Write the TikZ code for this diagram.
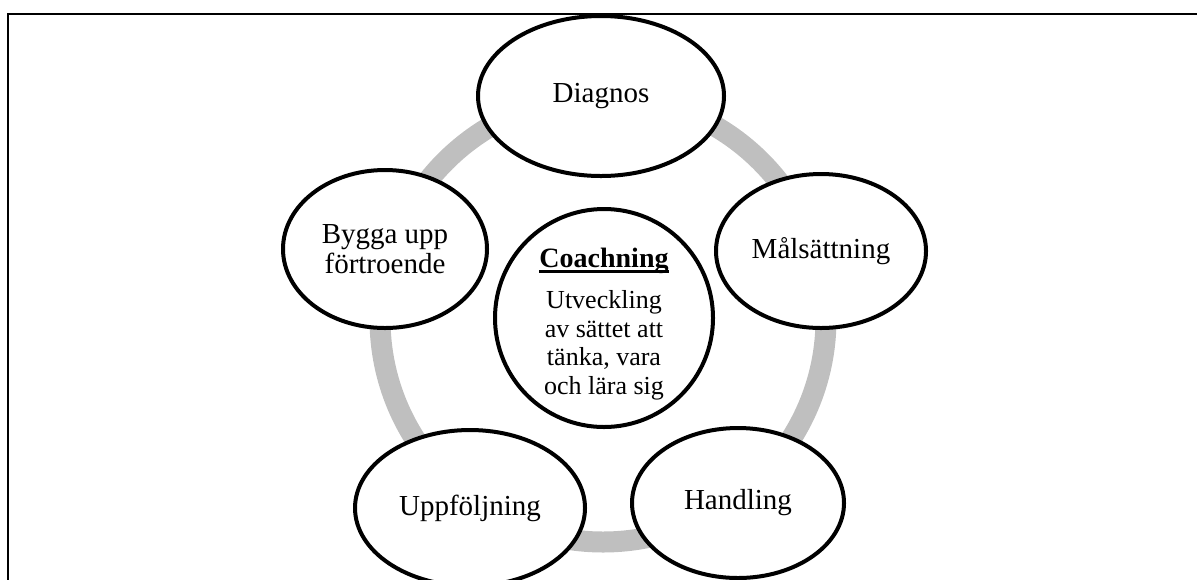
\documentclass[tikz,border=0pt]{standalone}
\usepackage{fontspec}
\setmainfont{Liberation Serif}
\usetikzlibrary{shapes.geometric}
\definecolor{ringgrey}{HTML}{BFBFBF}
\newcommand\heavyul[1]{\setbox0\hbox{#1}\rlap{\rule[-2.9pt]{\wd0}{1.5pt}}\box0}
\begin{document}
\begin{tikzpicture}[x=0.5pt,y=-0.5pt,
  stage/.style={ellipse, draw=black, line width=2pt, fill=white, inner sep=0pt, align=center, font=\fontsize{14.5}{15}\selectfont},
  core/.style={circle, draw=black, line width=2pt, fill=white, minimum size=109pt, inner sep=0pt},
  coretext/.style={align=center, inner sep=0pt, font=\fontsize{13}{14.25}\selectfont},
  ring/.style={draw=ringgrey, line width=10.5pt},
  frame/.style={draw=black, line width=1pt}]
\useasboundingbox (0,0) rectangle (1197,579);
\coordinate (fb) at (8,600);
\coordinate (fc) at (8,14);
\coordinate (fr) at (1220,14);
\draw[frame] (fb) -- (fc) -- (fr);
\coordinate (hub) at (603,319);
\draw[ring] (hub) circle[radius=111.5pt];
\node[stage, minimum width=123pt, minimum height=80pt] (diag) at (601,96) {Diagnos};
\node[stage, minimum width=102pt, minimum height=79pt] (bygga) at (385,249) {Bygga upp\\förtroende};
\node[stage, minimum width=105pt, minimum height=77pt] (mal) at (821,251) {Målsättning};
\node[stage, minimum width=115pt, minimum height=78pt] (uppf) at (470,508) {Uppföljning};
\node[stage, minimum width=106pt, minimum height=75pt] (hand) at (738,503) {Handling};
\node[core] (core) at (604,318) {};
\node[coretext] (coretext) at (604,324) {{\fontsize{14}{14.25}\selectfont\bfseries\heavyul{Coachning}}\\[6.5pt]Utveckling\\av sättet att\\tänka, vara\\och lära sig};
\end{tikzpicture}
\end{document}
